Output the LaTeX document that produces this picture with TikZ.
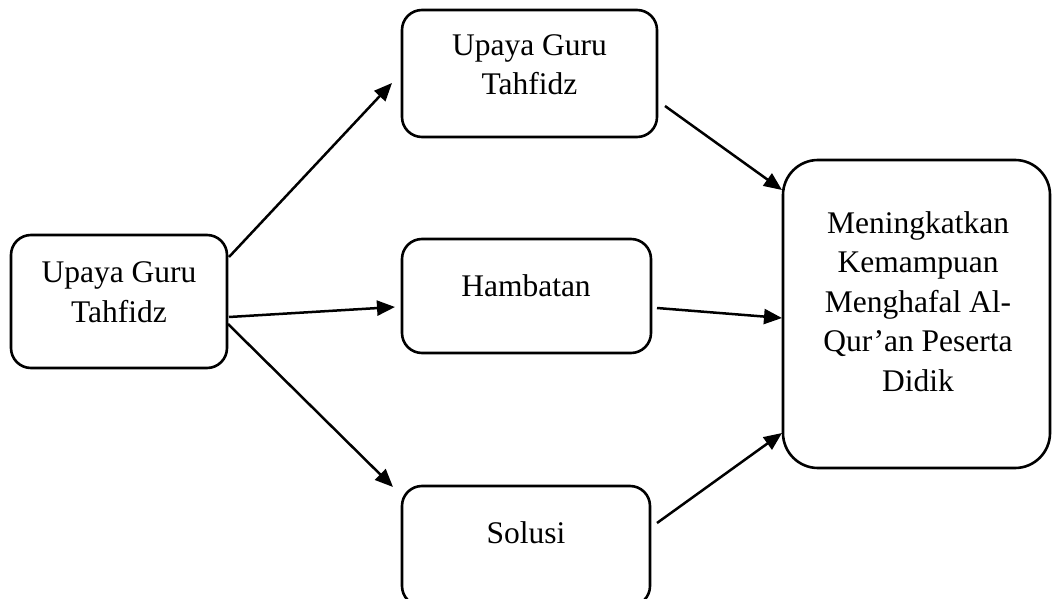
\documentclass[tikz,border=0pt]{standalone}
\usepackage{fontspec}
\setmainfont{Liberation Serif}
\usetikzlibrary{arrows.meta}
\begin{document}
\begin{tikzpicture}[x=1pt,y=-1pt,
  box/.style={draw, line width=2.6pt, rounded corners=20pt, inner sep=0pt},
  lbl/.style={font=\fontsize{31.5}{39.5}\selectfont, align=center, inner sep=0pt, anchor=base},
  conn/.style={line width=2.5pt, -{Triangle[length=18pt,width=15pt]}}]
\useasboundingbox (0,0) rectangle (1052,599);
\node[box, minimum width=216pt, minimum height=133pt] (left) at (119,301.5) {};
\node[box, minimum width=255pt, minimum height=127pt] (top) at (529.5,73.5) {};
\node[box, minimum width=249pt, minimum height=114pt] (mid) at (526.5,296) {};
\node[box, minimum width=248pt, minimum height=120pt] (bot) at (526,546) {};
\node[box, rounded corners=35pt, minimum width=267pt, minimum height=308pt] (right) at (916.5,314) {};
\node[lbl] (tleft) at (119,322) {Upaya Guru\\Tahfidz};
\node[lbl] (ttop) at (529.5,95) {Upaya Guru\\Tahfidz};
\node[lbl] (tmid) at (526,296) {Hambatan};
\node[lbl] (tbot) at (526,543) {Solusi};
\node[lbl] (tright) at (918,391) {Meningkatkan\\Kemampuan\\Menghafal Al-\\Qur’an Peserta\\Didik};
\coordinate (s1) at (229,257); \coordinate (e1) at (392,83);
\coordinate (s2) at (229,317); \coordinate (e2) at (395,307);
\coordinate (s3) at (228,324); \coordinate (e3) at (393,487);
\coordinate (s4) at (665,106); \coordinate (e4) at (782,190);
\coordinate (s5) at (657,308); \coordinate (e5) at (782,318);
\coordinate (s6) at (657,523); \coordinate (e6) at (782,433);
\draw[conn] (s1) -- (e1);
\draw[conn] (s2) -- (e2);
\draw[conn] (s3) -- (e3);
\draw[conn] (s4) -- (e4);
\draw[conn] (s5) -- (e5);
\draw[conn] (s6) -- (e6);
\end{tikzpicture}
\end{document}
